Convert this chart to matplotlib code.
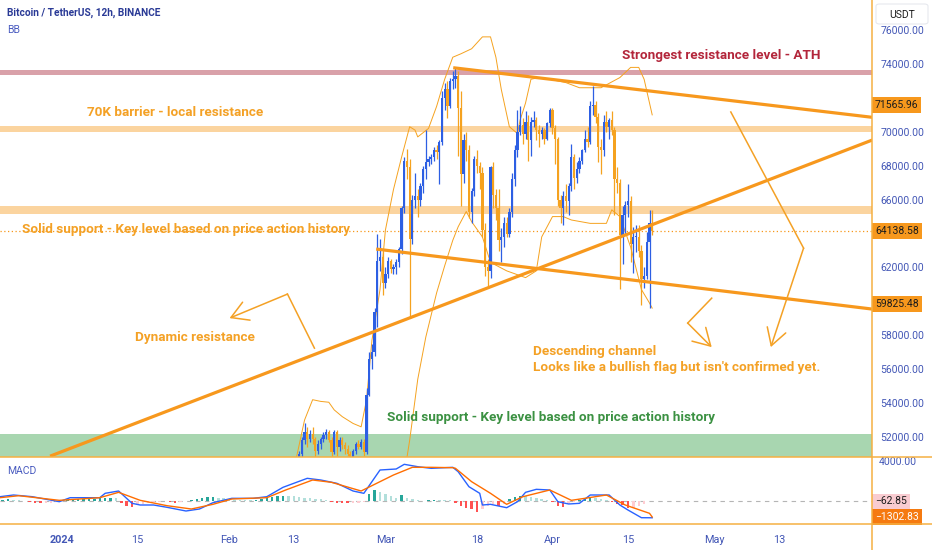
import matplotlib
matplotlib.use('Agg')
import matplotlib.pyplot as plt
import matplotlib.dates as mdates
import matplotlib.transforms as mtrans
from matplotlib.lines import Line2D
from matplotlib.patches import FancyArrowPatch, FancyBboxPatch
import pandas as pd

plt.rcParams['font.family'] = ['Roboto', 'DejaVu Sans']


def to_num(dates):
    return mdates.date2num(pd.to_datetime(dates, format='mixed'))


# ---------------- data (prices in thousands USDT) ----------------
candle_start = '2024-02-14 00:00'   # 12h candles
opens = [49.7, 51.0, 51.8, 52.3, 51.9, 52.2, 51.9, 51.2, 51.6, 51.9, 52.1, 52.3, 51.8, 51.1, 52.3, 51.4,
         51.8, 51.5, 51.3, 51.0, 50.7, 51.2, 51.6, 51.4, 51.7, 51.1, 54.5, 56.6, 57.0, 59.4, 62.4, 62.6,
         61.1, 61.6, 62.4, 61.9, 62.0, 62.3, 63.1, 65.5, 68.3, 67.9, 63.7, 66.0, 66.2, 66.0, 66.8, 67.8,
         68.2, 68.4, 68.5, 68.9, 68.8, 69.4, 72.0, 72.5, 71.5, 73.0, 73.1, 73.3, 71.4, 67.5, 69.5, 68.9,
         65.3, 66.5, 68.4, 68.0, 67.6, 64.2, 62.0, 61.8, 67.9, 66.3, 65.5, 63.6, 63.8, 64.6, 64.0, 65.3,
         67.2, 68.9, 70.0, 70.4, 69.9, 70.6, 69.5, 70.6, 70.7, 70.1, 69.9, 70.1, 69.6, 70.5, 71.3, 70.2,
         69.6, 66.0, 65.5, 66.2, 65.9, 66.8, 68.5, 67.3, 67.8, 68.3, 68.9, 69.6, 69.4, 71.5, 71.6, 70.9,
         69.1, 68.9, 70.6, 70.3, 70.7, 70.1, 67.2, 67.0, 63.9, 65.1, 65.7, 65.9, 63.4, 63.8, 63.8, 63.0,
         61.3, 61.5, 63.5, 64.6]
highs = [51.2, 52.0, 52.8, 52.6, 52.4, 52.6, 52.0, 51.8, 52.0, 52.3, 52.5, 52.4, 52.0, 52.4, 52.4, 52.0,
         52.0, 51.7, 51.5, 51.2, 51.3, 51.7, 51.8, 51.9, 51.9, 54.9, 57.0, 57.5, 59.6, 64.0, 63.7, 63.0,
         62.0, 62.6, 62.5, 62.2, 62.5, 63.2, 65.6, 68.5, 69.0, 68.4, 66.3, 67.6, 66.6, 67.0, 68.0, 70.1,
         68.6, 68.7, 69.1, 69.2, 69.5, 72.4, 72.9, 73.0, 73.2, 73.6, 73.8, 73.6, 72.4, 69.9, 70.0, 69.2,
         66.7, 68.6, 68.9, 68.2, 67.9, 64.6, 62.5, 68.0, 68.2, 66.6, 66.6, 64.3, 65.0, 65.0, 65.5, 67.6,
         69.2, 71.3, 71.5, 70.8, 71.2, 71.0, 70.9, 71.2, 70.9, 70.4, 70.3, 70.2, 70.6, 71.4, 71.4, 70.4,
         69.7, 66.3, 66.5, 66.9, 67.0, 69.3, 68.7, 68.2, 68.5, 69.0, 70.1, 70.3, 71.8, 72.7, 71.8, 71.1,
         69.6, 71.0, 71.2, 70.8, 71.2, 70.3, 67.9, 67.2, 65.6, 65.9, 66.9, 66.2, 64.4, 64.5, 64.5, 63.3,
         62.0, 64.1, 65.4, 65.4]
lows = [49.6, 50.8, 51.6, 51.4, 51.7, 51.6, 50.7, 51.0, 51.3, 51.7, 51.9, 51.7, 50.6, 51.0, 50.9, 51.2,
        51.3, 51.0, 50.9, 50.6, 50.6, 51.0, 51.3, 51.3, 50.9, 51.0, 54.4, 56.0, 56.8, 58.5, 61.8, 60.4,
        60.8, 61.4, 61.7, 61.6, 61.6, 62.0, 62.8, 65.2, 67.2, 59.0, 63.4, 65.5, 65.0, 65.6, 66.4, 67.2,
        68.0, 68.1, 68.3, 68.4, 66.9, 69.2, 71.3, 70.8, 71.4, 72.5, 72.6, 68.6, 65.6, 67.0, 68.3, 64.9,
        64.6, 66.2, 67.6, 66.6, 63.8, 61.5, 60.8, 61.4, 65.5, 64.8, 63.0, 62.3, 63.2, 63.8, 63.8, 65.0,
        66.8, 68.5, 69.8, 69.3, 69.6, 68.3, 68.6, 70.3, 69.5, 69.1, 69.6, 69.3, 69.5, 70.3, 69.9, 68.1,
        65.6, 64.6, 64.5, 65.3, 65.1, 66.5, 66.6, 67.0, 67.6, 68.1, 68.8, 69.1, 69.3, 71.0, 70.5, 68.2,
        67.5, 68.6, 70.0, 69.6, 69.8, 65.1, 66.4, 60.7, 62.2, 64.0, 65.0, 62.3, 61.7, 62.9, 62.6, 59.8,
        60.8, 61.3, 59.6, 63.9]
closes = [51.0, 51.8, 52.3, 51.9, 52.2, 51.9, 51.2, 51.6, 51.9, 52.1, 52.3, 51.8, 51.1, 52.3, 51.4, 51.8,
          51.5, 51.3, 51.0, 50.7, 51.2, 51.6, 51.4, 51.7, 51.1, 54.5, 56.6, 57.0, 59.4, 62.4, 62.6, 61.1,
          61.6, 62.4, 61.9, 62.0, 62.3, 63.1, 65.5, 68.3, 67.9, 63.7, 66.0, 66.2, 66.0, 66.8, 67.8, 68.2,
          68.4, 68.5, 68.9, 68.8, 69.4, 72.0, 72.5, 71.5, 73.0, 73.1, 73.3, 71.4, 67.5, 69.5, 68.9, 65.3,
          66.5, 68.4, 68.0, 67.6, 64.2, 62.0, 61.8, 67.9, 66.3, 65.5, 63.6, 63.8, 64.6, 64.0, 65.3, 67.2,
          68.9, 70.0, 70.4, 69.9, 70.6, 69.5, 70.6, 70.7, 70.1, 69.9, 70.1, 69.6, 70.5, 71.3, 70.2, 69.6,
          66.0, 65.5, 66.2, 65.9, 66.8, 68.5, 67.3, 67.8, 68.3, 68.9, 69.6, 69.4, 71.5, 71.6, 70.9, 69.1,
          68.9, 70.6, 70.3, 70.7, 70.1, 67.2, 67.0, 63.9, 65.1, 65.7, 65.9, 63.4, 63.8, 63.8, 63.0, 61.3,
          61.5, 63.5, 64.6, 64.13858]

bb_upper_dates = ['2024-02-13 12:00', '2024-02-15', '2024-02-16 12:00', '2024-02-18', '2024-02-19 12:00',
                  '2024-02-20 12:00', '2024-02-22', '2024-02-24', '2024-02-25 12:00', '2024-02-26 12:00',
                  '2024-02-27 12:00', '2024-02-29', '2024-03-01', '2024-03-02 12:00', '2024-03-04',
                  '2024-03-05', '2024-03-05 12:00', '2024-03-06 12:00', '2024-03-07', '2024-03-09',
                  '2024-03-10 12:00', '2024-03-12', '2024-03-13 12:00', '2024-03-15', '2024-03-17',
                  '2024-03-19', '2024-03-20 12:00', '2024-03-21 12:00', '2024-03-22 12:00', '2024-03-24',
                  '2024-03-25 12:00', '2024-03-26', '2024-03-27', '2024-03-28', '2024-03-29 12:00',
                  '2024-03-31 12:00', '2024-04-03 12:00', '2024-04-06', '2024-04-10', '2024-04-13 12:00',
                  '2024-04-15 12:00', '2024-04-17', '2024-04-18', '2024-04-19', '2024-04-19 12:00']
bb_upper = [50.8, 53.0, 54.2, 54.1, 54.05, 53.6, 53.2, 52.8, 52.6, 54.2,
            57.7, 60.7, 64.2, 66.6, 68.5, 69.7, 70.3, 70.1, 69.7, 70.2,
            71.5, 73.1, 74.4, 74.6, 74.9, 75.6, 75.6, 74.4, 72.5, 70.3,
            69.9, 70.7, 71.7, 73.1, 73.2, 73.1, 72.9, 72.6, 72.6, 73.2,
            73.8, 73.8, 73.1, 71.7, 71.0]
bb_lower_dates = ['2024-03-05', '2024-03-05 12:00', '2024-03-07', '2024-03-08 12:00', '2024-03-10 12:00',
                  '2024-03-12', '2024-03-13 12:00', '2024-03-14 12:00', '2024-03-16', '2024-03-17',
                  '2024-03-19', '2024-03-20 12:00', '2024-03-23 12:00', '2024-03-27', '2024-03-29',
                  '2024-03-30', '2024-04-01', '2024-04-03', '2024-04-04 12:00', '2024-04-08',
                  '2024-04-11', '2024-04-12', '2024-04-13 12:00', '2024-04-15 12:00', '2024-04-17 12:00',
                  '2024-04-19', '2024-04-19 12:00']
bb_lower = [50.8, 51.8, 55.4, 57.9, 60.5, 62.1, 63.6, 64.4, 65.3, 64.7,
            63.8, 62.3, 61.8, 61.4, 61.8, 63.8, 65.0, 65.0, 64.8, 64.6,
            64.6, 65.4, 65.0, 63.2, 60.7, 59.9, 59.6]

# MACD (12h chart), values in USDT
macd_dates = ['2023-12-20 12:00', '2023-12-23', '2023-12-26 12:00', '2023-12-31 12:00', '2024-01-02 12:00',
              '2024-01-08', '2024-01-09', '2024-01-11 12:00', '2024-01-14', '2024-01-15 12:00',
              '2024-01-18', '2024-01-20 12:00', '2024-01-24', '2024-01-26 12:00', '2024-01-29',
              '2024-02-01 12:00', '2024-02-05 12:00', '2024-02-08', '2024-02-11', '2024-02-15 12:00',
              '2024-02-18', '2024-02-21', '2024-02-24', '2024-02-26', '2024-02-29',
              '2024-03-03', '2024-03-04 12:00', '2024-03-07', '2024-03-09 12:00', '2024-03-12',
              '2024-03-13 12:00', '2024-03-14 12:00', '2024-03-16 12:00', '2024-03-18 12:00', '2024-03-19',
              '2024-03-20 12:00', '2024-03-23 12:00', '2024-03-25 12:00', '2024-03-27', '2024-03-29',
              '2024-03-31 12:00', '2024-04-02', '2024-04-04', '2024-04-06', '2024-04-08',
              '2024-04-11 12:00', '2024-04-13 12:00', '2024-04-15', '2024-04-17 12:00', '2024-04-19 12:00']
macd_line = [320, 456, 320, -80, 240, 240, 590, 776, -210, -344,
             -344, -530, -824, -664, -160, 190, 190, 320, 1070, 1790,
             1656, 1390, 776, 590, 2456, 2536, 2910, 2720, 2590, 2640,
             2670, 2320, 1120, 590, -344, -290, -560, -80, 670, 910,
             856, -80, -264, -210, 456, 456, -344, -744, -1360, -1366]
signal_dates = ['2023-12-20 12:00', '2023-12-24', '2023-12-31 12:00', '2024-01-08', '2024-01-11 12:00',
                '2024-01-15 12:00', '2024-01-20 12:00', '2024-01-25', '2024-01-29', '2024-02-01 12:00',
                '2024-02-08', '2024-02-11 12:00', '2024-02-16 12:00', '2024-02-20', '2024-02-25 12:00',
                '2024-03-02 12:00', '2024-03-06', '2024-03-09 12:00', '2024-03-13 12:00', '2024-03-14',
                '2024-03-17', '2024-03-20 12:00', '2024-03-23 12:00', '2024-03-26 12:00', '2024-03-31 12:00',
                '2024-04-04 12:00', '2024-04-07', '2024-04-11', '2024-04-14 12:00', '2024-04-19',
                '2024-04-19 12:00']
signal_line = [240, 400, 30, 240, 670, 30, -400, -664, -290, 136,
               240, 856, 1656, 1470, 776, 2056, 2670, 2670, 2640, 2590,
               1520, 590, -290, 320, 856, 30, 190, 456, -344, -1010,
               -1302.83]
hist_start = '2023-12-21'   # one value per day
hist_vals = [80, 100, 60, 20,
             -60, -120, -150, -200, -180, -150, -100, -60,
             40, 80, 100, 120, 150, 160, 180, 220, 250, 200,
             -200, -450, -480, -380,
             -250, -180, -120,
             -100, -60, -120, -150, -100, -50,
             60, 150, 250, 300, 320, 250, 180,
             120, 80, 50, 40, 30, 60, 150,
             250, 320, 380, 400, 380, 350, 300, 250, 200,
             150, 100, 50,
             -80, -150, -200, -220, -200, -150, -80,
             500, 850, 700, 500, 350, 250, 450,
             200, 100, 50, -50, 40, 80, 60, 30, 20,
             -200, -450, -600, -700, -880, -700, -400,
             -300, -400, -250,
             100, 300, 400, 380, 300, 200, 120,
             60, -100,
             -450, -530, -300, -120,
             80, 200, 240, 180, 100,
             50, -100, -250,
             -350, -600, -550, -450, -300, -63]

# drawn levels / trend lines
ath_band = (73.35, 73.65)
barrier_band = (70.0, 70.35)
support_band = (65.15, 65.62)
green_zone_top = 52.2
last_price = 64.13858
chan_upper_dates = ['2024-03-13 14:00', '2024-05-30 08:00']
chan_upper = [73.78, 70.855]
chan_lower_dates = ['2024-02-28 07:00', '2024-05-30 08:00']
chan_lower = [63.085, 59.545]
rising_dates = ['2023-12-29 19:00', '2024-05-30 08:00']
rising = [50.87, 69.516]
arrow1_dates = ['2024-02-16 20:00', '2024-02-11 20:00', '2024-02-01 02:00']
arrow1 = [57.24, 60.43, 59.01]
arrow2_dates = ['2024-04-30 13:00', '2024-04-26 02:00', '2024-04-30 13:00']
arrow2 = [60.19, 58.72, 57.30]
arrow3_dates = ['2024-05-04 02:00', '2024-05-17 14:00', '2024-05-11 12:00']
arrow3 = [71.17, 63.14, 57.30]

xtick_dates = ['2024-01-01', '2024-01-15', '2024-02-01', '2024-02-13', '2024-03-01',
               '2024-03-18', '2024-04-01', '2024-04-15', '2024-05-01', '2024-05-13']
xtick_labels = ['2024', '15', 'Feb', '13', 'Mar', '18', 'Apr', '15', 'May', '13']
ytick_vals = [52000, 54000, 56000, 58000, 62000, 66000, 68000, 70000, 74000, 76000]

# ---------------- styling ----------------
W, H = 932, 550
PANE_R, MAIN_B, MACD_B = 872, 457, 524
UP = '#2d5fe3'
DOWN = '#f5a21f'
ORANGE = '#f7981d'
TXT_OR = '#f4a125'
AXIS_TXT = '#4357b6'
SEP = '#f5b042'

fig = plt.figure(figsize=(W / 100, H / 100), dpi=100)
fig.patch.set_facecolor('white')
ax = fig.add_axes([0, 1 - MAIN_B / H, PANE_R / W, MAIN_B / H])
axm = fig.add_axes([0, 1 - MACD_B / H, PANE_R / W, (MACD_B - MAIN_B) / H], sharex=ax)

jan1 = pd.Timestamp('2024-01-01')
px_day = 5.39
x_left = mdates.date2num(jan1 - pd.Timedelta(days=62 / px_day))
x_right = mdates.date2num(jan1 + pd.Timedelta(days=(PANE_R - 62) / px_day))

k = 1000.0
price_per_px = 22000 / 373
y_top = (74000 + 64 * price_per_px) / k
y_bot = (52000 - 20 * price_per_px) / k

# bands
ax.axhspan(*ath_band, color='#d9a1a9', lw=0, zorder=1)
ax.axhspan(*barrier_band, color='#fbd49f', lw=0, zorder=1)
ax.axhspan(*support_band, color='#fbd49f', lw=0, zorder=1)
ax.axhspan(y_bot - 5, green_zone_top, color='#a8d6b0', lw=0, zorder=1)
ax.axhline(last_price, color=ORANGE, lw=0.9, ls=(0, (1, 2)), zorder=1.5)

# candles
t = mdates.date2num(pd.date_range(candle_start, periods=len(opens), freq='12h'))
cols = [UP if c >= o else DOWN for o, c in zip(opens, closes)]
ax.vlines(t, lows, highs, colors=cols, lw=0.9, zorder=3)
bh = [max(abs(c - o), 0.06) for o, c in zip(opens, closes)]
bb = [min(o, c) for o, c in zip(opens, closes)]
ax.bar(t, bh, bottom=bb, width=0.42, color=cols, lw=0, zorder=3.1)

# Bollinger bands
ax.plot(to_num(bb_upper_dates), bb_upper, color=DOWN, lw=0.7, zorder=2.5)
ax.plot(to_num(bb_lower_dates), bb_lower, color=DOWN, lw=0.7, zorder=2.5)

# trend lines
for d, v in [(chan_upper_dates, chan_upper), (chan_lower_dates, chan_lower), (rising_dates, rising)]:
    ax.plot(to_num(d), v, color=ORANGE, lw=2.3, solid_capstyle='butt', zorder=4)

# arrows
for d, v in [(arrow1_dates, arrow1), (arrow2_dates, arrow2), (arrow3_dates, arrow3)]:
    xs = to_num(d)
    ax.plot(xs[:-1], v[:-1], color=TXT_OR, lw=1.1, zorder=4)
    ax.add_patch(FancyArrowPatch((xs[-2], v[-2]), (xs[-1], v[-1]), arrowstyle='->,head_length=1.2,head_width=0.7',
                                 mutation_scale=10, color=TXT_OR, lw=1.1, shrinkA=0, shrinkB=0, zorder=4))

ax.set_xlim(x_left, x_right)
ax.set_ylim(y_bot, y_top)


def apos(px, py):
    return px / PANE_R, 1 - py / MAIN_B


tkw = dict(transform=ax.transAxes, fontweight='bold', fontsize=9.7, va='center', ha='left', zorder=6)
ax.text(*apos(622, 55), 'Strongest resistance level - ATH', color='#b3263b', **tkw)
ax.text(*apos(87, 113), '70K barrier - local resistance', color=TXT_OR, **tkw)
ax.text(*apos(22, 229), 'Solid support - Key level based on price action history', color=TXT_OR, **tkw)
ax.text(*apos(135, 337), 'Dynamic resistance', color=TXT_OR, **tkw)
ax.text(*apos(533, 351), 'Descending channel', color=TXT_OR, **tkw)
ax.text(*apos(533, 367), "Looks like a bullish flag but isn't confirmed yet.", color=TXT_OR, **tkw)
ax.text(*apos(387, 418), 'Solid support - Key level based on price action history', color='#3b9142', **tkw)

# price axis
ax.yaxis.tick_right()
ax.set_yticks([v / k for v in ytick_vals])
ax.set_yticklabels([f'{v:.2f}' for v in ytick_vals])
ax.tick_params(axis='y', length=0, pad=6, labelsize=7.5, labelcolor=AXIS_TXT)
ax.tick_params(axis='x', bottom=False, labelbottom=False)
for s in ax.spines.values():
    s.set_visible(False)

blend = mtrans.blended_transform_factory(ax.transAxes, ax.transData)
lab = dict(transform=blend, fontsize=7.5, va='center', ha='left', zorder=10, clip_on=False)
for val in [71565.96, last_price * k, 59825.48]:
    ax.text(1.0 + 3 / PANE_R, val / k, f'{val:.2f}', color='#1c1c1c',
            bbox=dict(boxstyle='square,pad=0.28', fc='#f7981d', ec='none'), **lab)

# MACD pane
ht = mdates.date2num(pd.date_range(hist_start, periods=len(hist_vals), freq='D'))
hcols = []
for i, v in enumerate(hist_vals):
    prev = hist_vals[i - 1] if i > 0 else 0
    if v >= 0:
        hcols.append('#26a69a' if v >= prev else '#b2dfdb')
    else:
        hcols.append('#ff5252' if v <= prev else '#ffcdd2')
axm.bar(ht, hist_vals, width=0.45, color=hcols, lw=0, zorder=2)
axm.axhline(0, color='#b5b5b5', lw=0.8, ls=(0, (4, 4)), zorder=1)
axm.plot(to_num(macd_dates), macd_line, color='#2962ff', lw=1.0, zorder=3)
axm.plot(to_num(signal_dates), signal_line, color='#ff6d00', lw=1.0, zorder=3)
axm.set_ylim(-(MACD_B - 500.7) * 80, (500.7 - MAIN_B) * 80)
axm.set_yticks([])
for s in axm.spines.values():
    s.set_visible(False)
axm.set_xticks(to_num(xtick_dates))
axm.set_xticklabels(xtick_labels)
axm.tick_params(axis='x', length=0, pad=8, labelsize=7.8, labelcolor=AXIS_TXT)
axm.get_xticklabels()[0].set_fontweight('bold')
axm.set_xlim(x_left, x_right)

mblend = mtrans.blended_transform_factory(axm.transAxes, axm.transData)
axm.text(1.0 + 3 / PANE_R, -62.85, '\u221262.85', transform=mblend, fontsize=7.5, va='center', ha='left',
         color='#1c1c1c', bbox=dict(boxstyle='square,pad=0.28', fc='#f9ccd1', ec='none'), clip_on=False, zorder=10)
axm.text(1.0 + 3 / PANE_R, signal_line[-1], '\u22121302.83', transform=mblend, fontsize=7.5, va='center',
         ha='left', color='white', bbox=dict(boxstyle='square,pad=0.28', fc='#f57a10', ec='none'),
         clip_on=False, zorder=10)

# header texts
fig.text(7 / W, 1 - 13 / H, 'Bitcoin / TetherUS, 12h, BINANCE', fontsize=7.3, fontweight='bold',
         color='#2a3a96', va='center', ha='left')
fig.text(7 / W, 1 - 30 / H, 'BB', fontsize=7.5, color='#4a5cc0', va='center', ha='left')
fig.text(7 / W, 1 - 471 / H, 'MACD', fontsize=7.5, color='#4a5cc0', va='center', ha='left')
fig.text(879 / W, 1 - 462 / H, '4000.00', fontsize=7.5, color=AXIS_TXT, va='center', ha='left')

# USDT box
fig.add_artist(FancyBboxPatch((876 / W, 1 - 24 / H), 52 / W, 20 / H, boxstyle='round,pad=0,rounding_size=0.004',
                              transform=fig.transFigure, fc='white', ec='#e6e8ee', lw=0.8, zorder=9))
fig.text(902 / W, 1 - 14.5 / H, 'USDT', fontsize=7.5, color='#1c1c1c', va='center', ha='center', zorder=10)

# pane separators
fig.add_artist(Line2D([PANE_R / W, PANE_R / W], [0, 1], color=SEP, lw=1.1, zorder=8))
fig.add_artist(Line2D([0, 1], [1 - MAIN_B / H, 1 - MAIN_B / H], color=SEP, lw=1.1, zorder=8))
fig.add_artist(Line2D([0, 1], [1 - MACD_B / H, 1 - MACD_B / H], color=SEP, lw=1.1, zorder=8))

fig.savefig('out.png', dpi=100, facecolor='white')
